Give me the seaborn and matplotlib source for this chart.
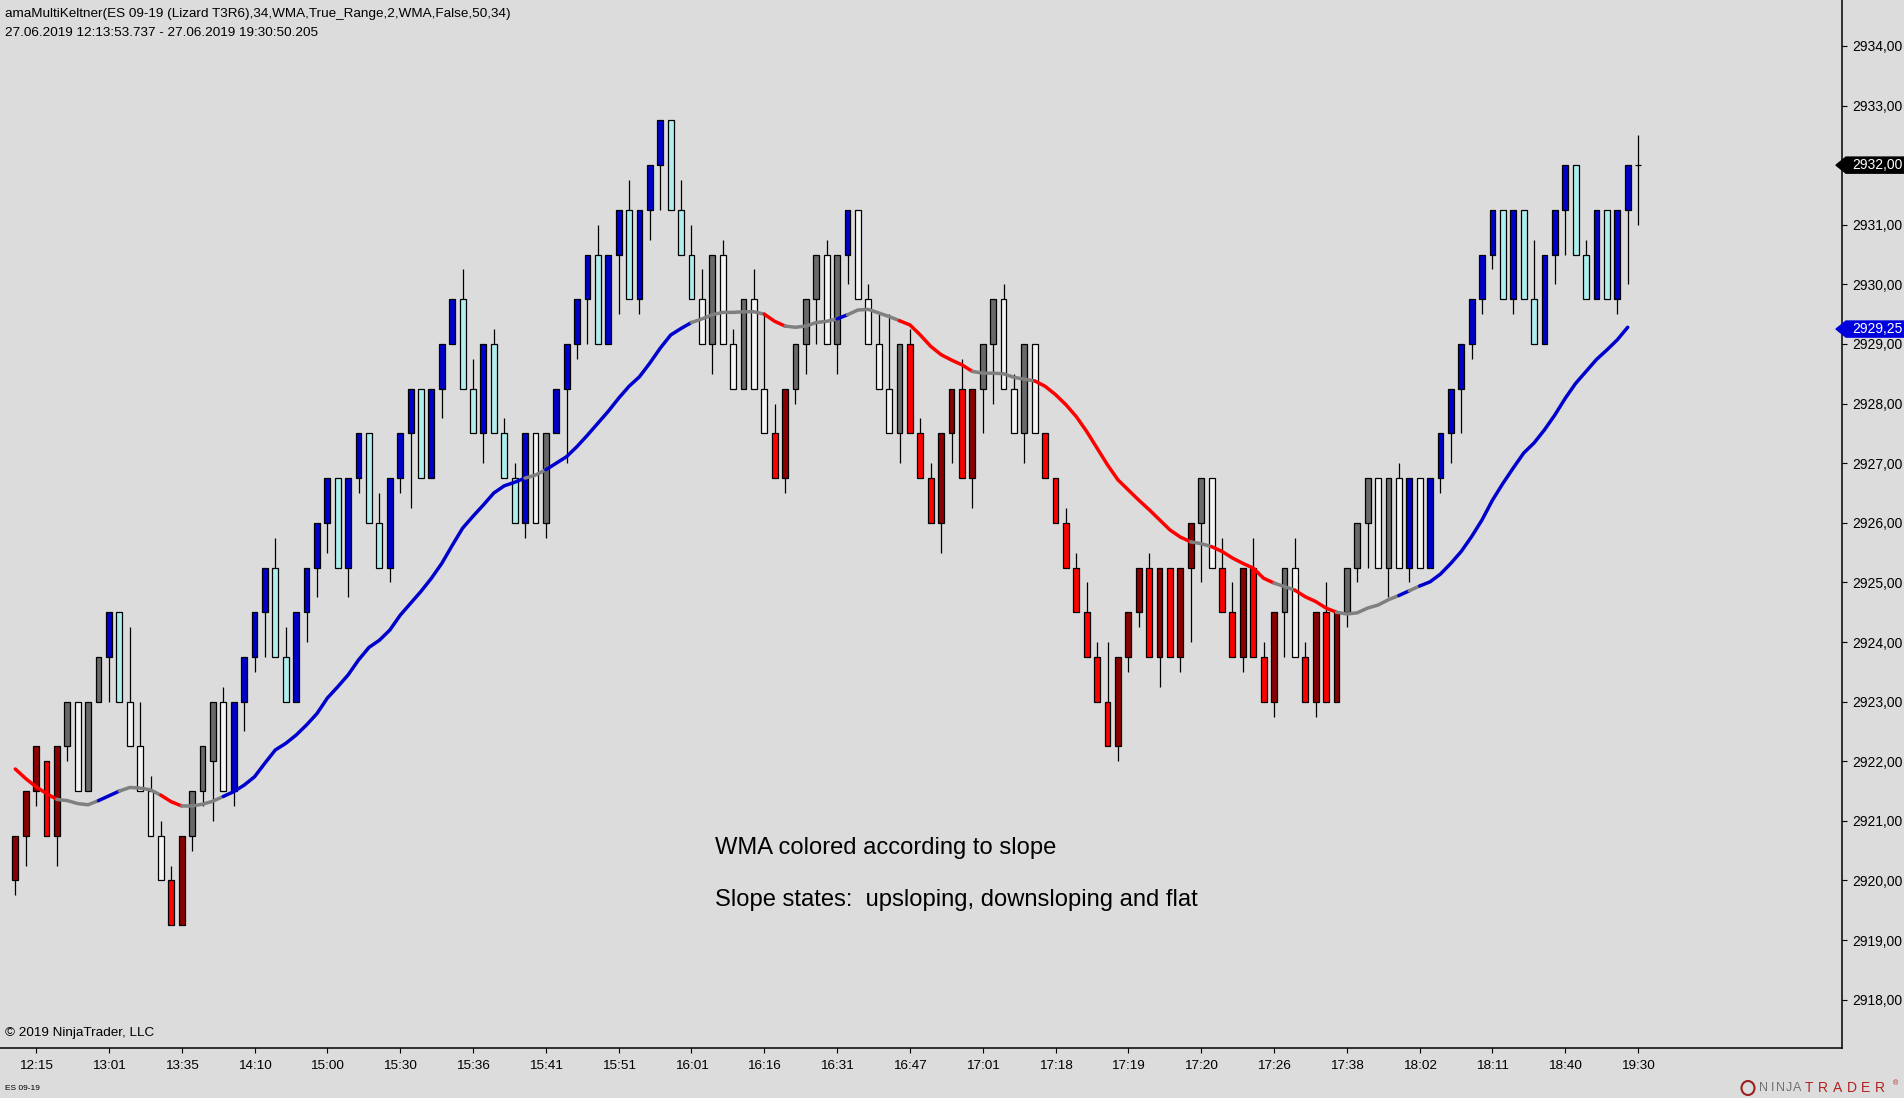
import numpy as np
import pandas as pd
import matplotlib
matplotlib.use("Agg")
import matplotlib.pyplot as plt
import matplotlib.transforms as mtransforms
from matplotlib.patches import Polygon, Ellipse
import seaborn as sns

# ---------------- data ----------------
opens = [2920.0, 2920.75, 2921.5, 2922.0, 2920.75, 2922.25, 2923.0, 2921.5, 2923.0, 2923.75,
         2924.5, 2923.0, 2922.25, 2921.5, 2920.75, 2920.0, 2919.25, 2920.75, 2921.5, 2922.0,
         2923.0, 2921.5, 2923.0, 2923.75, 2924.5, 2925.25, 2923.75, 2923.0, 2924.5, 2925.25,
         2926.0, 2926.75, 2925.25, 2926.75, 2927.5, 2926.0, 2925.25, 2926.75, 2927.5, 2928.25,
         2926.75, 2928.25, 2929.0, 2929.75, 2928.25, 2927.5, 2929.0, 2927.5, 2926.75, 2926.0,
         2927.5, 2926.0, 2927.5, 2928.25, 2929.0, 2929.75, 2930.5, 2929.0, 2930.5, 2931.25,
         2929.75, 2931.25, 2932.0, 2932.75, 2931.25, 2930.5, 2929.75, 2929.0, 2930.5, 2929.0,
         2928.25, 2929.75, 2928.25, 2927.5, 2926.75, 2928.25, 2929.0, 2929.75, 2930.5, 2929.0,
         2930.5, 2931.25, 2929.75, 2929.0, 2928.25, 2927.5, 2929.0, 2927.5, 2926.75, 2926.0,
         2927.5, 2928.25, 2926.75, 2928.25, 2929.0, 2929.75, 2928.25, 2927.5, 2929.0, 2927.5,
         2926.75, 2926.0, 2925.25, 2924.5, 2923.75, 2923.0, 2922.25, 2923.75, 2924.5, 2925.25,
         2923.75, 2925.25, 2923.75, 2925.25, 2926.0, 2926.75, 2925.25, 2924.5, 2923.75, 2925.25,
         2923.75, 2923.0, 2924.5, 2925.25, 2923.75, 2923.0, 2924.5, 2923.0, 2924.5, 2925.25,
         2926.0, 2926.75, 2925.25, 2926.75, 2925.25, 2926.75, 2925.25, 2926.75, 2927.5, 2928.25,
         2929.0, 2929.75, 2930.5, 2931.25, 2929.75, 2931.25, 2929.75, 2929.0, 2930.5, 2931.25,
         2932.0, 2930.5, 2929.75, 2931.25, 2929.75, 2931.25, 2932.0]
highs = [2920.75, 2921.5, 2922.25, 2922.0, 2922.25, 2923.0, 2923.0, 2923.0, 2923.75, 2924.5,
         2924.5, 2924.25, 2923.0, 2921.75, 2921.0, 2920.25, 2920.75, 2921.5, 2922.25, 2923.0,
         2923.25, 2923.0, 2923.75, 2924.5, 2925.25, 2925.75, 2924.25, 2924.5, 2925.25, 2926.0,
         2926.75, 2926.75, 2926.75, 2927.5, 2927.5, 2926.5, 2926.75, 2927.5, 2928.25, 2928.25,
         2928.25, 2929.0, 2929.75, 2930.25, 2928.75, 2929.0, 2929.25, 2927.75, 2927.0, 2927.5,
         2927.5, 2927.5, 2928.25, 2929.0, 2929.75, 2930.5, 2931.0, 2930.5, 2931.25, 2931.75,
         2931.25, 2932.0, 2932.75, 2932.75, 2931.75, 2931.0, 2930.25, 2930.5, 2930.75, 2929.25,
         2929.75, 2930.25, 2929.5, 2928.0, 2928.25, 2929.0, 2929.75, 2930.5, 2930.75, 2930.5,
         2931.25, 2931.25, 2930.0, 2929.5, 2929.5, 2929.0, 2929.25, 2927.75, 2927.0, 2927.5,
         2928.25, 2928.75, 2928.25, 2929.0, 2929.75, 2930.0, 2928.5, 2929.0, 2929.0, 2927.5,
         2926.75, 2926.25, 2925.5, 2925.0, 2924.0, 2924.0, 2923.75, 2924.5, 2925.25, 2925.5,
         2925.25, 2925.25, 2925.25, 2926.0, 2926.75, 2926.75, 2925.75, 2925.0, 2925.25, 2925.75,
         2924.0, 2924.5, 2925.25, 2925.75, 2924.0, 2924.5, 2925.0, 2924.5, 2925.25, 2926.0,
         2926.75, 2926.75, 2926.75, 2927.0, 2926.75, 2926.75, 2926.75, 2927.5, 2928.25, 2929.0,
         2929.75, 2930.5, 2931.25, 2931.25, 2931.25, 2931.25, 2930.75, 2930.5, 2931.25, 2932.0,
         2932.0, 2930.75, 2931.25, 2931.25, 2931.25, 2932.0, 2932.5]
lows = [2919.75, 2920.25, 2921.25, 2920.75, 2920.25, 2922.0, 2921.5, 2921.5, 2923.0, 2923.0,
        2923.0, 2922.25, 2921.5, 2920.75, 2920.0, 2919.25, 2919.25, 2920.5, 2921.25, 2921.0,
        2921.5, 2921.25, 2922.5, 2923.5, 2923.75, 2923.75, 2923.0, 2923.0, 2924.0, 2924.75,
        2925.5, 2925.25, 2924.75, 2926.5, 2926.0, 2925.25, 2925.0, 2926.5, 2926.25, 2926.75,
        2926.75, 2927.75, 2929.0, 2928.25, 2927.5, 2927.0, 2927.5, 2926.75, 2926.0, 2925.75,
        2926.0, 2925.75, 2927.5, 2927.0, 2928.75, 2929.0, 2929.0, 2929.0, 2929.5, 2929.75,
        2929.5, 2930.75, 2931.25, 2931.25, 2930.5, 2929.75, 2929.0, 2928.5, 2929.0, 2928.25,
        2928.25, 2928.25, 2927.5, 2926.75, 2926.5, 2928.0, 2928.5, 2929.0, 2929.0, 2928.5,
        2930.0, 2929.75, 2929.0, 2928.25, 2927.5, 2927.0, 2927.5, 2926.75, 2926.0, 2925.5,
        2927.0, 2926.75, 2926.25, 2927.5, 2928.0, 2928.25, 2927.5, 2927.0, 2927.5, 2926.75,
        2926.0, 2925.25, 2924.5, 2923.75, 2923.0, 2922.25, 2922.0, 2923.5, 2924.25, 2923.75,
        2923.25, 2923.75, 2923.5, 2924.0, 2925.0, 2925.25, 2924.5, 2923.75, 2923.5, 2923.75,
        2923.0, 2922.75, 2923.75, 2923.75, 2923.0, 2922.75, 2923.0, 2923.0, 2924.25, 2925.0,
        2925.25, 2925.25, 2924.75, 2925.25, 2925.0, 2925.25, 2925.25, 2926.5, 2927.0, 2927.5,
        2928.75, 2929.5, 2930.25, 2929.75, 2929.5, 2929.75, 2929.0, 2929.0, 2930.0, 2930.5,
        2930.5, 2929.75, 2929.75, 2929.75, 2929.5, 2930.0, 2931.0]
closes = [2920.75, 2921.5, 2922.25, 2920.75, 2922.25, 2923.0, 2921.5, 2923.0, 2923.75, 2924.5,
          2923.0, 2922.25, 2921.5, 2920.75, 2920.0, 2919.25, 2920.75, 2921.5, 2922.25, 2923.0,
          2921.5, 2923.0, 2923.75, 2924.5, 2925.25, 2923.75, 2923.0, 2924.5, 2925.25, 2926.0,
          2926.75, 2925.25, 2926.75, 2927.5, 2926.0, 2925.25, 2926.75, 2927.5, 2928.25, 2926.75,
          2928.25, 2929.0, 2929.75, 2928.25, 2927.5, 2929.0, 2927.5, 2926.75, 2926.0, 2927.5,
          2926.0, 2927.5, 2928.25, 2929.0, 2929.75, 2930.5, 2929.0, 2930.5, 2931.25, 2929.75,
          2931.25, 2932.0, 2932.75, 2931.25, 2930.5, 2929.75, 2929.0, 2930.5, 2929.0, 2928.25,
          2929.75, 2928.25, 2927.5, 2926.75, 2928.25, 2929.0, 2929.75, 2930.5, 2929.0, 2930.5,
          2931.25, 2929.75, 2929.0, 2928.25, 2927.5, 2929.0, 2927.5, 2926.75, 2926.0, 2927.5,
          2928.25, 2926.75, 2928.25, 2929.0, 2929.75, 2928.25, 2927.5, 2929.0, 2927.5, 2926.75,
          2926.0, 2925.25, 2924.5, 2923.75, 2923.0, 2922.25, 2923.75, 2924.5, 2925.25, 2923.75,
          2925.25, 2923.75, 2925.25, 2926.0, 2926.75, 2925.25, 2924.5, 2923.75, 2925.25, 2923.75,
          2923.0, 2924.5, 2925.25, 2923.75, 2923.0, 2924.5, 2923.0, 2924.5, 2925.25, 2926.0,
          2926.75, 2925.25, 2926.75, 2925.25, 2926.75, 2925.25, 2926.75, 2927.5, 2928.25, 2929.0,
          2929.75, 2930.5, 2931.25, 2929.75, 2931.25, 2929.75, 2929.0, 2930.5, 2931.25, 2932.0,
          2930.5, 2929.75, 2931.25, 2929.75, 2931.25, 2932.0, 2932.0]
# slope regime per bar: 'dn' (downsloping), 'up' (upsloping), 'fl' (flat)
regime = (['dn'] * 5 + ['fl'] * 4 + ['up'] * 2 + ['fl'] * 4 + ['dn'] * 2 + ['fl'] * 4 +
          ['up'] * 29 + ['fl'] * 2 + ['up'] * 14 + ['fl'] * 7 + ['dn'] * 2 + ['fl'] * 5 +
          ['up'] * 1 + ['fl'] * 5 + ['dn'] * 7 + ['fl'] * 6 + ['dn'] * 15 + ['fl'] * 2 +
          ['dn'] * 6 + ['fl'] * 2 + ['dn'] * 4 + ['fl'] * 6 + ['up'] * 1 + ['fl'] * 1 +
          ['up'] * 21)
wma = [2921.87, 2921.71, 2921.57, 2921.46, 2921.36, 2921.34, 2921.29, 2921.27, 2921.34, 2921.42,
       2921.50, 2921.56, 2921.55, 2921.52, 2921.43, 2921.32, 2921.25, 2921.25, 2921.28, 2921.33,
       2921.41, 2921.49, 2921.60, 2921.74, 2921.97, 2922.19, 2922.30, 2922.44, 2922.61, 2922.80,
       2923.06, 2923.25, 2923.45, 2923.70, 2923.91, 2924.03, 2924.20, 2924.45, 2924.65, 2924.85,
       2925.07, 2925.32, 2925.62, 2925.91, 2926.11, 2926.30, 2926.50, 2926.62, 2926.68, 2926.75,
       2926.80, 2926.89, 2927.00, 2927.11, 2927.28, 2927.47, 2927.67, 2927.87, 2928.09, 2928.29,
       2928.45, 2928.68, 2928.93, 2929.15, 2929.26, 2929.36, 2929.42, 2929.49, 2929.53, 2929.53,
       2929.54, 2929.54, 2929.50, 2929.38, 2929.30, 2929.28, 2929.30, 2929.36, 2929.38, 2929.42,
       2929.49, 2929.57, 2929.58, 2929.52, 2929.46, 2929.39, 2929.32, 2929.15, 2928.96, 2928.82,
       2928.73, 2928.65, 2928.54, 2928.51, 2928.51, 2928.50, 2928.44, 2928.41, 2928.38, 2928.29,
       2928.15, 2927.98, 2927.78, 2927.53, 2927.25, 2926.97, 2926.72, 2926.55, 2926.38, 2926.22,
       2926.05, 2925.88, 2925.76, 2925.68, 2925.65, 2925.60, 2925.52, 2925.41, 2925.32, 2925.24,
       2925.07, 2924.99, 2924.93, 2924.87, 2924.76, 2924.68, 2924.57, 2924.50, 2924.47, 2924.49,
       2924.57, 2924.62, 2924.71, 2924.78, 2924.86, 2924.94, 2925.01, 2925.14, 2925.32, 2925.52,
       2925.77, 2926.05, 2926.38, 2926.66, 2926.92, 2927.17, 2927.34, 2927.56, 2927.81, 2928.09,
       2928.34, 2928.54, 2928.74, 2928.90, 2929.07, 2929.28]
time_labels = ['12:15', '13:01', '13:35', '14:10', '15:00', '15:30', '15:36', '15:41', '15:51',
               '16:01', '16:16', '16:31', '16:47', '17:01', '17:18', '17:19', '17:20', '17:26',
               '17:38', '18:02', '18:11', '18:40', '19:30']
time_label_bars = list(range(2, 157, 7))
price_ticks = list(range(2918, 2935))
last_price = 2932.00
wma_last = 2929.25

# ---------------- style ----------------
BG = '#dcdcdc'
bar_colors = {('dn', True): '#8b0000', ('dn', False): '#ff0000',
              ('up', True): '#0000cd', ('up', False): '#afeeee',
              ('fl', True): '#696969', ('fl', False): '#f5f5f5'}
line_colors = {'dn': '#ff0000', 'up': '#0000cd', 'fl': '#808080'}

sns.set_theme(style='white')
plt.rcParams['font.family'] = ['Liberation Sans', 'DejaVu Sans']

W, H = 1904, 1098
fig = plt.figure(figsize=(W / 100, H / 100), dpi=100, facecolor=BG)
ax = fig.add_axes([0, 50 / H, 1842 / W, 1048 / H])
ax.set_facecolor(BG)

n = len(opens)
idx = np.arange(n)
o = np.array(opens); c = np.array(closes); hi = np.array(highs); lo = np.array(lows)

# wicks
ax.vlines(idx, lo, hi, color='black', linewidth=0.9, zorder=2)
# bodies
cols = []
for i in range(n):
    if o[i] == c[i]:
        cols.append('black')
    else:
        cols.append(bar_colors[(regime[i], bool(c[i] > o[i]))])
ax.bar(idx, np.abs(c - o), bottom=np.minimum(o, c), width=0.56, color=cols,
       edgecolor='black', linewidth=0.9, zorder=3)

# WMA colored by slope, runs of equal regime
rows = []
seg_pal = {}
m = len(wma)
start = 1
seg_id = 0
for i in range(1, m + 1):
    if i == m or regime[i] != regime[start]:
        name = f's{seg_id}'
        seg_pal[name] = line_colors[regime[start]]
        for k in range(start - 1, i):
            rows.append({'x': k, 'y': wma[k], 'seg': name})
        seg_id += 1
        start = i
df = pd.DataFrame(rows)
sns.lineplot(data=df, x='x', y='y', hue='seg', palette=seg_pal, estimator=None, sort=False,
             legend=False, linewidth=2.5, solid_capstyle='round', ax=ax, zorder=4)

ax.set_xlim(-1.47, 175.6)
ax.set_ylim(2917.19, 2934.77)
ax.set_xlabel('')
ax.set_ylabel('')

# axes styling
for s in ['left', 'top']:
    ax.spines[s].set_visible(False)
for s in ['right', 'bottom']:
    ax.spines[s].set_visible(True)
    ax.spines[s].set_color('black')
    ax.spines[s].set_linewidth(1.1)
ax.yaxis.tick_right()
ax.set_yticks(price_ticks)
ax.set_yticklabels([f'{v:.2f}'.replace('.', ',') for v in price_ticks])
ax.set_xticks(time_label_bars)
ax.set_xticklabels(time_labels)
ax.tick_params(axis='y', which='both', right=True, left=False, direction='out', length=3.6,
               width=0.8, color='black', pad=3.5, labelsize=10, labelcolor='black')
ax.tick_params(axis='x', which='both', bottom=True, direction='out', length=3.6, width=0.8,
               color='black', pad=5, labelsize=9.7, labelcolor='black')
ax.grid(False)

# price markers on the right axis
blend = mtransforms.blended_transform_factory(fig.transFigure, ax.transData)
def price_tag(y, fc, label):
    h = 0.135
    pts = [(1836 / W, y), (1846 / W, y + h), (1.0, y + h), (1.0, y - h), (1846 / W, y - h)]
    ax.add_patch(Polygon(pts, closed=True, facecolor=fc, edgecolor=fc, transform=blend,
                         clip_on=False, zorder=10))
    ax.text(1852 / W, y, label, transform=blend, color='white', fontsize=10,
            va='center', ha='left', zorder=11, clip_on=False)
price_tag(last_price, 'black', f'{last_price:.2f}'.replace('.', ','))
price_tag(wma_last, '#0000dd', f'{wma_last:.2f}'.replace('.', ','))

# annotations
fig.text(5 / W, 1 - 14 / H,
         'amaMultiKeltner(ES 09-19 (Lizard T3R6),34,WMA,True_Range,2,WMA,False,50,34)',
         fontsize=9.7, va='center', ha='left', color='black')
fig.text(5 / W, 1 - 33 / H, '27.06.2019 12:13:53.737 - 27.06.2019 19:30:50.205',
         fontsize=9.7, va='center', ha='left', color='black')
fig.text(715 / W, 1 - 848 / H, 'WMA colored according to slope', fontsize=17.1,
         va='center', ha='left', color='black')
fig.text(715 / W, 1 - 900 / H, 'Slope states:  upsloping, downsloping and flat', fontsize=17.1,
         va='center', ha='left', color='black')
fig.text(5 / W, 1 - 1033 / H, '\u00a9 2019 NinjaTrader, LLC', fontsize=9.7,
         va='center', ha='left', color='black')
fig.text(5 / W, 1 - 1088 / H, 'ES 09-19', fontsize=6, va='center', ha='left', color='black')

# NinjaTrader logo
fig.patches.append(Ellipse((1748 / W, 1 - 1088 / H), 13 / W, 14 / H, transform=fig.transFigure,
                           facecolor='none', edgecolor='#9b2020', linewidth=1.5))
for j, ch in enumerate('NINJA'):
    fig.text((1764 + 8.3 * j) / W, 1 - 1088 / H, ch, fontsize=9, va='center', ha='center',
             color='#707070')
for j, ch in enumerate('TRADER'):
    fig.text((1809 + 14.2 * j) / W, 1 - 1088 / H, ch, fontsize=10, va='center', ha='center',
             color='#b22222')
fig.text(1893 / W, 1 - 1084 / H, '\u00ae', fontsize=5, va='center', ha='left', color='#b22222')

fig.savefig('out.png', dpi=100, facecolor=BG)
